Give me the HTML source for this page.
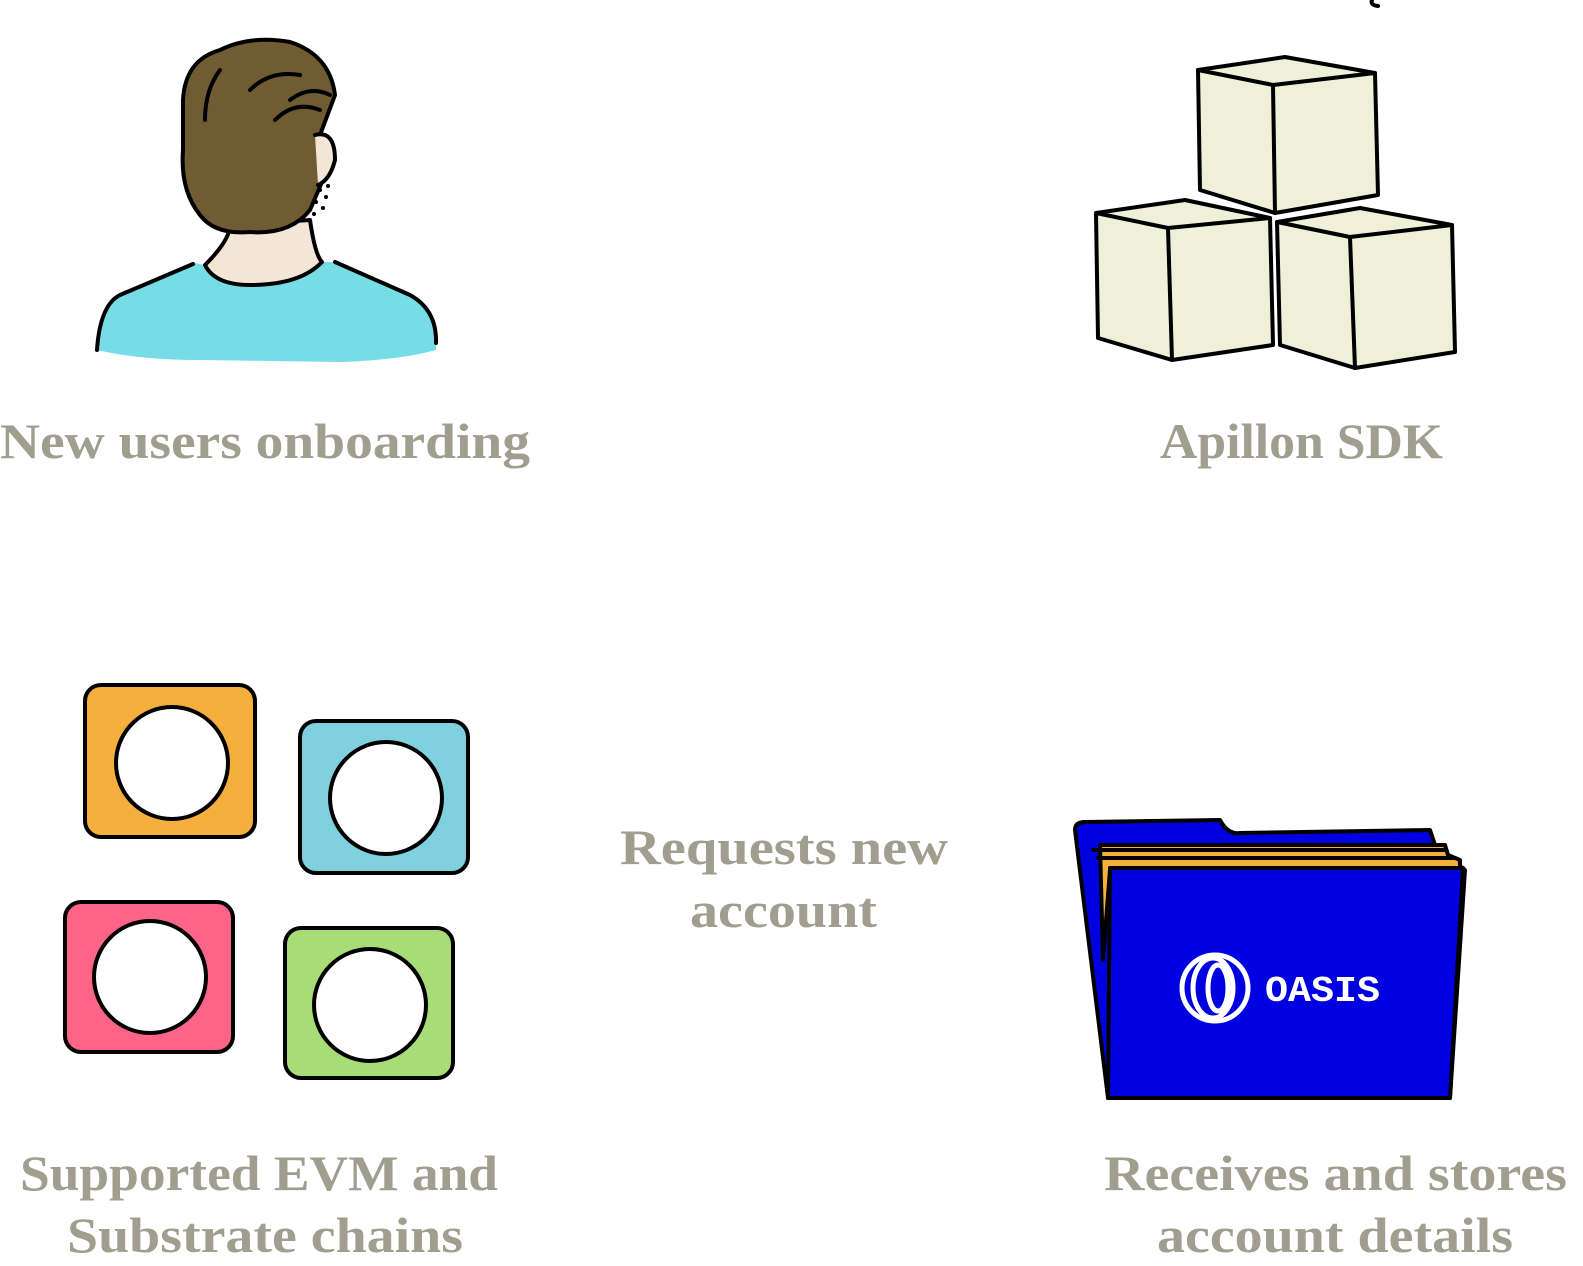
<!DOCTYPE html>
<html><head><meta charset="utf-8"><style>html,body{margin:0;padding:0;background:#fff;}svg{display:block}</style></head>
<body>
<svg width="1583" height="1266" viewBox="0 0 1583 1266" xmlns="http://www.w3.org/2000/svg">
<g fill="none" stroke="#000" stroke-width="4" stroke-linecap="round" stroke-linejoin="round">
<!-- person -->
<path d="M97 350 Q100 305 120 295 L195 263 L205 265 Q230 240 230 230 L310 225 L322 262 L335 262 L410 295 Q437 310 436 350 Q400 360 340 362 L200 360 Q140 360 97 350 Z" fill="#76dce6" stroke="none"/>
<path d="M97 350 Q100 305 120 295 L193 264"/>
<path d="M335 262 L410 295 Q437 310 436 343"/>
<path d="M205 265 Q230 240 230 225 L310 220 Q315 255 322 262 Q300 285 250 285 Q215 285 205 265 Z" fill="#f3e6d6"/>
<path d="M183 100 Q185 60 220 50 Q250 35 290 42 Q330 55 335 95 L320 135 Q335 150 325 175 L310 210 Q290 235 250 232 Q215 235 200 215 Q180 190 183 150 Z" fill="#6f5c33"/>
<path d="M315 135 Q335 130 335 160 Q330 180 318 185" fill="#f3e6d6"/>
<path d="M250 90 Q270 70 300 75 M290 100 Q310 85 330 95 M220 70 Q205 90 205 120 M275 120 Q295 100 320 110" />
<g fill="#000" stroke="none"><circle cx="320" cy="190" r="2"/><circle cx="326" cy="197" r="2"/><circle cx="316" cy="202" r="2"/><circle cx="323" cy="208" r="2"/><circle cx="314" cy="214" r="2"/><circle cx="328" cy="186" r="2"/></g>
<!-- cubes -->
<g fill="#eff0d8">
<path d="M1198 70 L1285 57 L1375 73 L1378 195 L1275 213 L1200 190 Z"/>
<path d="M1198 70 L1273 85 L1375 73 M1273 85 L1275 213"/>
<path d="M1096 213 L1185 200 L1270 218 L1273 345 L1172 360 L1098 338 Z"/>
<path d="M1096 213 L1168 228 L1270 218 M1168 228 L1172 360"/>
<path d="M1277 222 L1360 208 L1452 225 L1455 352 L1355 368 L1280 345 Z"/>
<path d="M1277 222 L1350 237 L1452 225 M1350 237 L1355 368"/>
</g>
<path d="M1372 0 Q1370 5 1378 6"/>
<!-- chain squares -->
<rect x="85" y="685" width="170" height="152" rx="16" fill="#f5af3c"/>
<circle cx="172" cy="763" r="56" fill="#fff"/>
<rect x="300" y="721" width="168" height="152" rx="16" fill="#80d0e0"/>
<circle cx="386" cy="798" r="56" fill="#fff"/>
<rect x="65" y="902" width="168" height="150" rx="16" fill="#fd6488"/>
<circle cx="150" cy="977" r="56" fill="#fff"/>
<rect x="285" y="928" width="168" height="150" rx="16" fill="#a8dc76"/>
<circle cx="370" cy="1005" r="56" fill="#fff"/>
<!-- folder -->
<path d="M1075 830 Q1075 822 1085 822 L1220 820 Q1228 835 1240 833 L1430 830 L1435 845 L1465 870 L1450 1098 L1108 1098 Z" fill="#0000e0"/>
<path d="M1100 845 L1445 845 L1448 855 L1460 860 L1460 870 L1110 870 L1103 960 Z" fill="#f5af3c"/>
<path d="M1093 850 L1445 850 M1098 858 L1455 858"/>
<path d="M1110 868 L1463 868 L1450 1098 L1108 1098 Z" fill="#0000e0"/>
</g>
<g fill="none" stroke="#fff" stroke-width="5">
<circle cx="1215" cy="988" r="33"/>
<ellipse cx="1213" cy="988" rx="20" ry="30"/>
<ellipse cx="1218" cy="988" rx="10" ry="23"/>
</g>
<text x="1265" y="1001" font-family="Liberation Mono, monospace" font-weight="bold" font-size="36" fill="#fff" textLength="115" lengthAdjust="spacingAndGlyphs">OASIS</text>
<g font-family="Liberation Serif, serif" font-weight="bold" font-size="50" fill="#9f9e8f" lengthAdjust="spacingAndGlyphs">
<text x="0" y="458" textLength="530" lengthAdjust="spacingAndGlyphs">New users onboarding</text>
<text x="1160" y="458" textLength="283" lengthAdjust="spacingAndGlyphs">Apillon SDK</text>
<text x="620" y="864" textLength="328" lengthAdjust="spacingAndGlyphs">Requests new</text>
<text x="690" y="927" textLength="187" lengthAdjust="spacingAndGlyphs">account</text>
<text x="20" y="1190" textLength="478" lengthAdjust="spacingAndGlyphs">Supported EVM and</text>
<text x="67" y="1252" textLength="396" lengthAdjust="spacingAndGlyphs">Substrate chains</text>
<text x="1104" y="1190" textLength="463" lengthAdjust="spacingAndGlyphs">Receives and stores</text>
<text x="1157" y="1252" textLength="356" lengthAdjust="spacingAndGlyphs">account details</text>
</g>
</svg>
</body></html>
